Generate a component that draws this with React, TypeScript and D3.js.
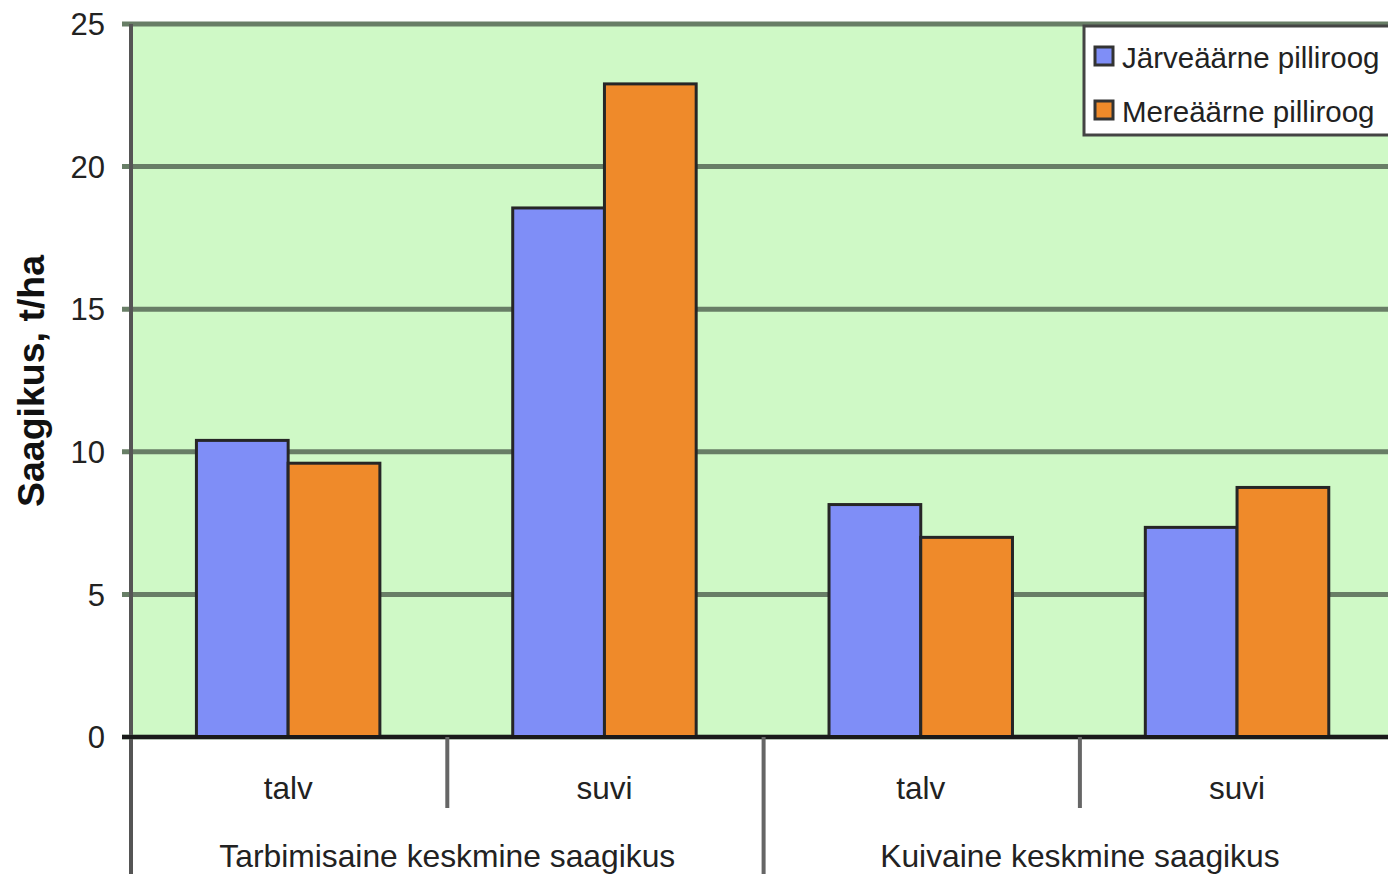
import * as d3 from "d3";

const seasons = ["talv", "suvi", "talv", "suvi"];
const groups = ["Tarbimisaine keskmine saagikus", "Kuivaine keskmine saagikus"];
const seriesNames = ["Järveäärne pilliroog", "Mereäärne pilliroog"];
const jarve = [10.4, 18.55, 8.15, 7.35];
const mere = [9.6, 22.9, 7.0, 8.75];
const yTicks = [0, 5, 10, 15, 20, 25];

const colors = ["#7f8ef7", "#ef8a2a"];
const font = "'Liberation Sans', Arial, sans-serif";

export default function App() {
  const width = 1388;
  const height = 874;
  const left = 131;
  const top = 24;
  const bottom = 737;
  const bandW = 316.3;

  const y = d3.scaleLinear().domain([0, 25]).range([bottom, top]);
  const x = d3
    .scaleBand<number>()
    .domain(seasons.map((_, i) => i))
    .range([left, left + bandW * seasons.length])
    .padding(0);
  const bw = x.bandwidth();
  const groupW = bw * 0.58;
  const x1 = d3
    .scaleBand<number>()
    .domain([0, 1])
    .range([(bw - groupW) / 2 - 1, (bw + groupW) / 2 - 1])
    .padding(0);

  const series = [jarve, mere];

  return (
    <svg
      width={width}
      height={height}
      style={{ position: "absolute", left: 0, top: 0, background: "#fff" }}
      fontFamily={font}
    >
      <rect x={left} y={top} width={x.range()[1] - left} height={bottom - top} fill="#cff9c6" />

      {yTicks.map(t => (
        <g key={t}>
          <line x1={122} x2={x.range()[1]} y1={y(t)} y2={y(t)} stroke="#687e66" strokeWidth={5} />
          <text x={105} y={y(t)} dy="0.36em" textAnchor="end" fontSize={31} fill="#222">
            {t}
          </text>
        </g>
      ))}

      {seasons.map((_, i) =>
        series.map((vals, s) => {
          const bx = (x(i) ?? 0) + (x1(s) ?? 0);
          return (
            <rect
              key={`${i}-${s}`}
              x={bx}
              y={y(vals[i])}
              width={x1.bandwidth()}
              height={bottom - y(vals[i])}
              fill={colors[s]}
              stroke="#262626"
              strokeWidth={3}
            />
          );
        })
      )}

      {/* axes */}
      <line x1={left} x2={left} y1={top} y2={height} stroke="#555" strokeWidth={4} />
      <line x1={122} x2={width} y1={bottom} y2={bottom} stroke="#1a1a1a" strokeWidth={4} />
      {seasons.map((_, i) => {
        const bx = x(i) ?? 0;
        const isGroupStart = i % 2 === 0;
        return (
          <g key={`c${i}`}>
            {i > 0 && (
              <line
                x1={bx}
                x2={bx}
                y1={bottom}
                y2={isGroupStart ? height : 808}
                stroke="#666"
                strokeWidth={4}
              />
            )}
            <text x={bx + bw / 2 - 1} y={799} textAnchor="middle" fontSize={31.5} fill="#222">
              {seasons[i]}
            </text>
          </g>
        );
      })}
      {groups.map((g, gi) => (
        <text
          key={g}
          x={(x(gi * 2) ?? 0) + bw}
          y={867}
          textAnchor="middle"
          fontSize={31.8}
          fill="#222"
        >
          {g}
        </text>
      ))}

      <text
        transform={`translate(44, 381) rotate(-90)`}
        textAnchor="middle"
        fontSize={37.5}
        fontWeight="bold"
        fill="#111"
      >
        Saagikus, t/ha
      </text>

      {/* legend */}
      <rect x={1084} y={26} width={330} height={109} fill="#fff" stroke="#444" strokeWidth={3} />
      {seriesNames.map((n, i) => (
        <g key={n} transform={`translate(1095, ${47 + i * 54})`}>
          <rect x={0} y={0} width={18} height={18} fill={colors[i]} stroke="#333" strokeWidth={3} />
          <text x={27} y={21} fontSize={29.5} fill="#222">
            {n}
          </text>
        </g>
      ))}
    </svg>
  );
}
